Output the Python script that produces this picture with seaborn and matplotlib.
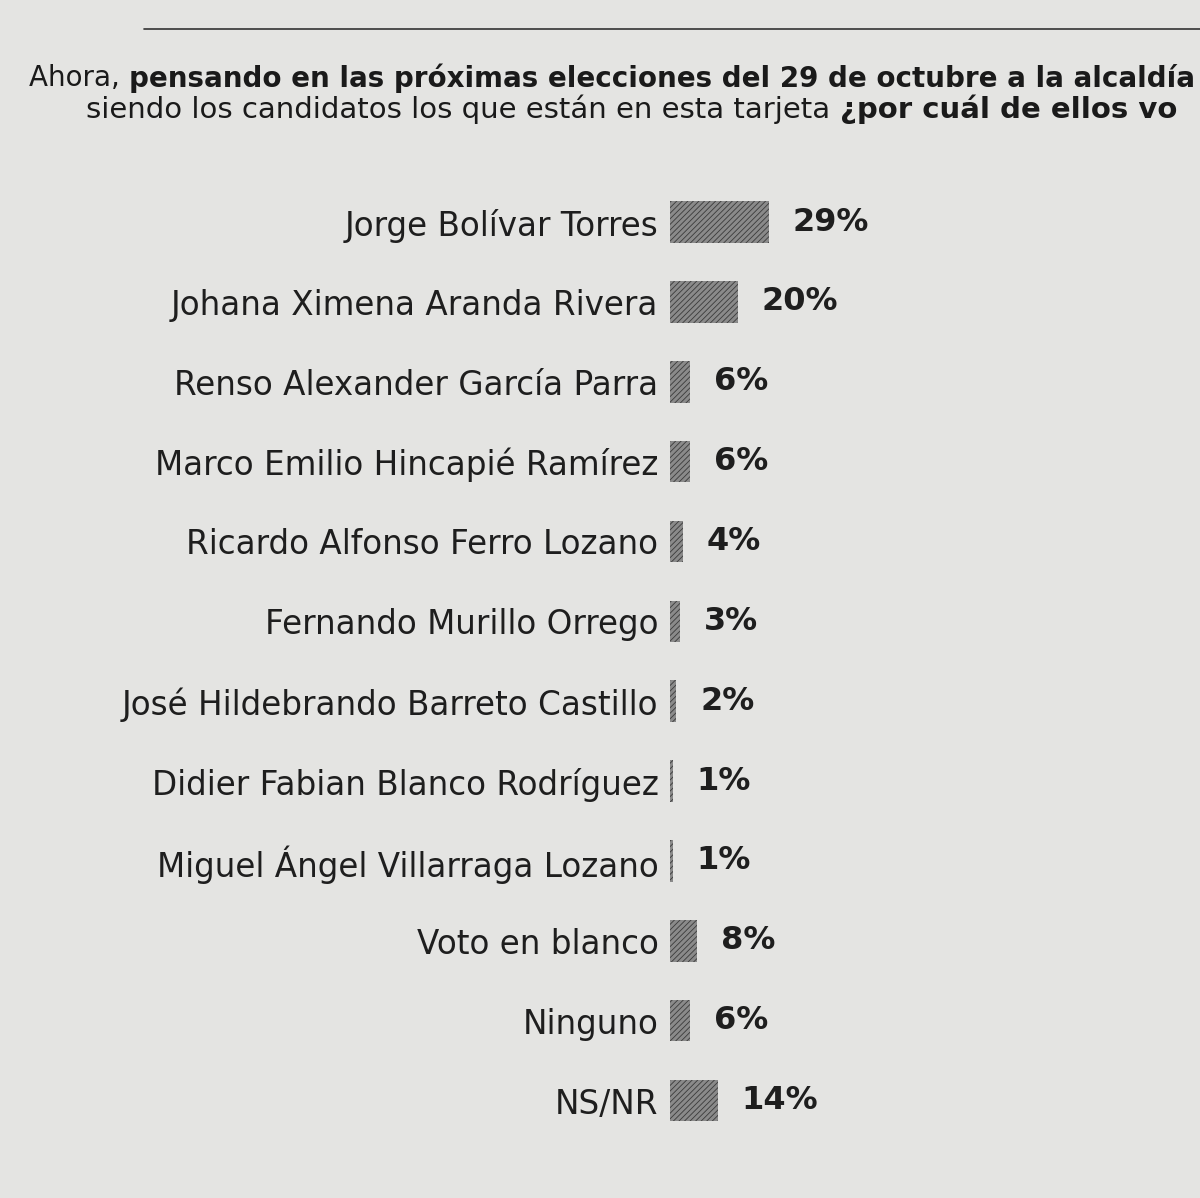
import matplotlib
matplotlib.use("Agg")
import matplotlib.pyplot as plt
import seaborn as sns

# data
candidatos = ["Jorge Bolívar Torres", "Johana Ximena Aranda Rivera",
              "Renso Alexander García Parra", "Marco Emilio Hincapié Ramírez",
              "Ricardo Alfonso Ferro Lozano", "Fernando Murillo Orrego",
              "José Hildebrando Barreto Castillo", "Didier Fabian Blanco Rodríguez",
              "Miguel Ángel Villarraga Lozano", "Voto en blanco", "Ninguno", "NS/NR"]
porcentajes = [29, 20, 6, 6, 4, 3, 2, 1, 1, 8, 6, 14]

sns.set_style("white")
plt.rcParams['font.family'] = ['DejaVu Sans']
plt.rcParams['hatch.linewidth'] = 0.6

bg = "#e4e4e2"
fig = plt.figure(figsize=(12, 11.98), dpi=100, facecolor=bg)
ax = fig.add_axes([0.558, 0.048, 0.442, 0.80], facecolor=bg)

sns.barplot(x=porcentajes, y=candidatos, orient="h", color="#8a8a8a",
            width=0.52, ax=ax, saturation=1)
for p in ax.patches:
    p.set_hatch("//////")
    p.set_edgecolor("#3a3a3a")
    p.set_linewidth(0)

ax.set_xlim(0, 155)
ax.set_xlabel("")
ax.set_ylabel("")
ax.set_xticks([])
ax.tick_params(axis="y", length=0, pad=8, labelsize=23.5, labelcolor="#1e1e1e")
sns.despine(ax=ax, left=True, bottom=True)

for cont in ax.containers:
    ax.bar_label(cont, labels=[f"{v}%" for v in porcentajes], padding=17,
                 fontsize=23, fontweight="bold", color="#1e1e1e")

# title, mixed regular / bold, running off the page edge as in the photo
fig.canvas.draw()
r = fig.canvas.get_renderer()

def linea(x, y, partes, size):
    for txt, w in partes:
        t = fig.text(x, y, txt, fontsize=size, fontweight=w, color="#1a1a1a",
                     va="center", ha="left")
        x += t.get_window_extent(r).width / fig.bbox.width

linea(0.024, 0.935, [("Ahora, ", "normal"),
                     ("pensando en las próximas elecciones del 29 de octubre a la alcaldía", "bold")], 20)
linea(0.072, 0.909, [("siendo los candidatos los que están en esta tarjeta ", "normal"),
                     ("¿por cuál de ellos vo", "bold")], 21)

fig.add_artist(plt.Line2D([0.12, 1.0], [0.976, 0.976], color="#333333", lw=1.2))

fig.savefig("out.png", dpi=100, facecolor=bg)
